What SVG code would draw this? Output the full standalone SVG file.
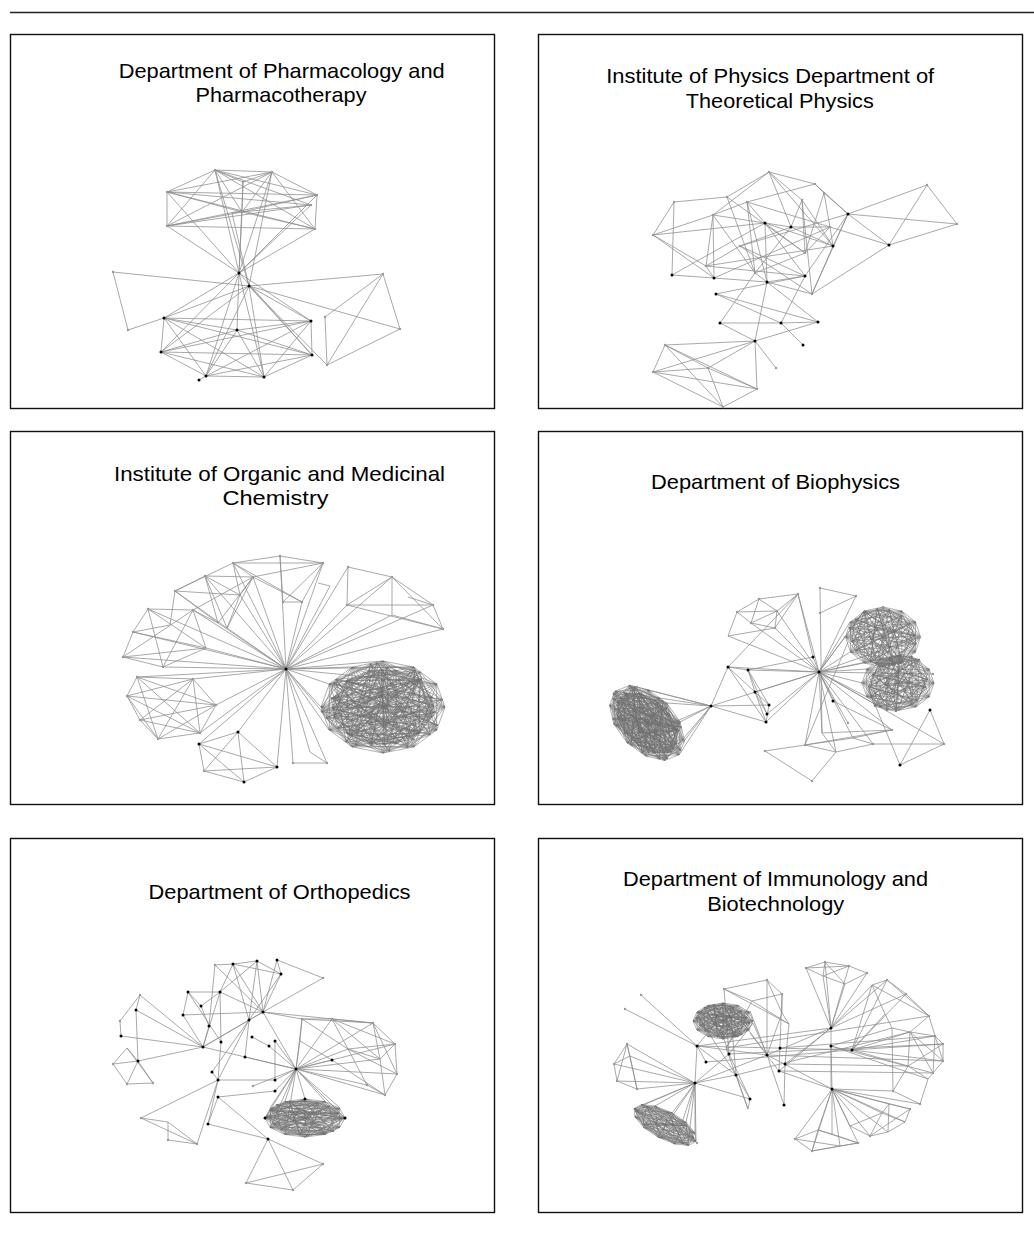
<svg xmlns="http://www.w3.org/2000/svg" width="1034" height="1236" viewBox="0 0 1034 1236">
<style>
.frame{fill:#fff;stroke:#111;stroke-width:1.4}
.title{font-family:"Liberation Sans",Arial,sans-serif;font-size:21px;fill:#000;text-anchor:middle}
.e{fill:none;stroke:#8c8c8c;stroke-width:0.75}
.k polygon,.k path{fill:none;stroke:#707070;stroke-width:0.55;vector-effect:non-scaling-stroke}
.dk{fill:none;stroke:#000;stroke-width:3;stroke-linecap:round}
.lt{fill:none;stroke:#9a9a9a;stroke-width:2.4;stroke-linecap:round}
</style>
<defs>
<g id="k12" class="k">
<polygon points="50,0 43.3,-25 25,-43.3 0,-50 -25,-43.3 -43.3,-25 -50,0 -43.3,25 -25,43.3 0,50 25,43.3 43.3,25"/>
<polygon points="50,0 25,-43.3 -25,-43.3 -50,0 -25,43.3 25,43.3"/>
<polygon points="43.3,-25 0,-50 -43.3,-25 -43.3,25 0,50 43.3,25"/>
<polygon points="50,0 0,-50 -50,0 0,50"/>
<polygon points="43.3,-25 -25,-43.3 -43.3,25 25,43.3"/>
<polygon points="25,-43.3 -43.3,-25 -25,43.3 43.3,25"/>
<polygon points="50,0 -25,-43.3 -25,43.3"/>
<polygon points="43.3,-25 -43.3,-25 0,50"/>
<polygon points="25,-43.3 -50,0 25,43.3"/>
<polygon points="0,-50 -43.3,25 43.3,25"/>
<polygon points="50,0 -43.3,-25 25,43.3 0,-50 -25,43.3 43.3,-25 -50,0 43.3,25 -25,-43.3 0,50 25,-43.3 -43.3,25"/>
<path d="M50,0L-50,0M43.3,-25L-43.3,25M25,-43.3L-25,43.3M0,-50L0,50M-25,-43.3L25,43.3M-43.3,-25L43.3,25"/>
</g>
<g id="r10" class="k">
<polygon points="48,-8 30,-38 -5,-48 -38,-30 -50,5 -30,38 5,48 38,30 12,-15 -15,10"/>
<polygon points="48,-8 -5,-48 -50,5 5,48 12,-15"/>
<polygon points="30,-38 -38,-30 -30,38 38,30 -15,10"/>
<polygon points="48,-8 -38,-30 5,48 -15,10 -5,-48 -30,38 12,-15 30,-38 -50,5 38,30"/>
<polygon points="48,-8 -50,5 12,-15 -5,-48 5,48"/>
<polygon points="30,-38 -30,38 -15,10 -38,-30 38,30"/>
<path d="M48,-8L-30,38M30,-38L5,48M-5,-48L38,30M-38,-30L12,-15M-50,5L-15,10"/>
</g>
<g id="r10b" class="k">
<polygon points="44,20 20,44 -22,42 -46,12 -40,-26 -10,-47 26,-40 -2,-12 18,5 -20,-2"/>
<polygon points="44,20 -22,42 -40,-26 26,-40 18,5"/>
<polygon points="20,44 -46,12 -10,-47 -2,-12 -20,-2"/>
<polygon points="44,20 -46,12 26,-40 -20,-2 -22,42 -10,-47 18,5 20,44 -40,-26 -2,-12"/>
<polygon points="44,20 -40,-26 18,5 -22,42 26,-40"/>
<polygon points="20,44 -10,-47 -20,-2 -46,12 -2,-12"/>
<path d="M44,20L-10,-47M20,44L26,-40M-22,42L-2,-12M-46,12L18,5M-40,-26L-20,-2"/>
</g>
<g id="dense">
<use href="#k12"/>
<use href="#r10"/>
<use href="#r10b"/>
<use href="#k12" transform="rotate(15) scale(0.82)"/>
<use href="#r10" transform="rotate(140) scale(0.85)"/>
<use href="#r10b" transform="rotate(250) scale(0.9)"/>
</g>
<g id="mid">
<use href="#r10"/>
<use href="#r10b" transform="rotate(30)"/>
</g>
</defs>
<rect width="1034" height="1236" fill="#fff"/>
<line x1="10" y1="12.5" x2="1034" y2="12.5" stroke="#222" stroke-width="1.6"/>

<!-- Panel 1 -->
<g id="panel-pharmacology">
<rect class="frame" x="10.5" y="34.5" width="484" height="374"/>
<text class="title" x="281.7" y="77.5" textLength="326" lengthAdjust="spacingAndGlyphs">Department of Pharmacology and</text>
<text class="title" x="281" y="101.5" textLength="171" lengthAdjust="spacingAndGlyphs">Pharmacotherapy</text>
<g id="p1-edges">
<path class="e" d="M215 170L272 172M215 170L167 192M272 172L317 195M167 192L317 195M167 226L315 229M167 192L167 226M317 195L315 229M215 170L242 212M272 172L242 212M167 192L315 229M167 226L317 195M215 170L315 229M272 172L167 226M167 192L311 205M167 226L311 205M215 170L243 182M243 182L272 172M243 182L242 212M167 192L242 212M242 212L317 195M167 226L242 212M242 212L315 229M215 170L317 195M272 172L167 192M215 170L311 205M232 213L311 205M272 172L315 229M215 170L167 226
M239 273L215 170M239 273L272 172M239 273L243 182M239 273L167 192M239 273L317 195M239 273L167 226M239 273L315 229M239 273L242 212M239 273L311 205M249 286L215 170M249 286L272 172M249 286L232 213
M113 272L249 286M113 272L128 330M128 330L164 318M249 286L383 274M249 286L400 329M383 274L400 329M383 274L325 317M325 317L327 365M327 365L400 329M383 274L327 365M249 286L327 365
M164 318L311 321M164 318L161 352M311 321L312 355M161 352L312 355M164 318L237 330M237 330L311 321M161 352L264 377M164 318L264 377M164 318L312 355M161 352L311 321M206 376L264 377M161 352L206 376M206 376L311 321M264 377L312 355M206 376L312 355M237 330L206 376M237 330L264 377M237 330L161 352M237 330L312 355M164 318L206 376M311 321L264 377M199 380L206 376
M239 273L164 318M239 273L311 321M239 273L237 330M239 273L161 352M239 273L312 355M239 273L206 376M239 273L264 377M249 286L164 318M249 286L206 376M249 286L264 377M249 286L312 355M249 286L311 321M249 286L161 352"/>
</g>
<g id="p1-nodes">
<path class="lt" d="M215 170h0M272 172h0M243 182h0M167 192h0M317 195h0M311 205h0M242 212h0M167 226h0M315 229h0M113 272h0M128 330h0M383 274h0M400 329h0M325 317h0M327 365h0"/>
<path class="dk" d="M239 273h0M249 286h0M164 318h0M311 321h0M237 330h0M161 352h0M312 355h0M206 376h0M264 377h0M199 380h0"/>
</g>
</g>

<!-- Panel 2 -->
<g id="panel-physics">
<rect class="frame" x="538.5" y="34.5" width="484" height="374"/>
<text class="title" x="770.2" y="83" textLength="328" lengthAdjust="spacingAndGlyphs">Institute of Physics Department of</text>
<text class="title" x="779.8" y="108" textLength="188" lengthAdjust="spacingAndGlyphs">Theoretical Physics</text>
<g id="p2-edges">
<path class="e" d="M769 172L815 184M769 172L727 197M674 202L727 197M674 202L672 275M769 172L802 200M769 172L713 215M769 172L791 227M769 172L833 246M815 184L824 193M815 184L747 202M815 184L848 214M824 193L830 227M824 193L848 214M824 193L805 253M653 235L713 215M653 235L765 223M653 235L706 266M653 235L714 278M713 215L747 202M713 215L791 227M713 215L706 266M713 215L714 278M713 215L755 273M747 202L765 223M747 202L755 273M747 202L767 282M747 202L830 227M802 200L791 227M802 200L833 246M802 200L805 253M802 200L812 294M848 214L889 245M848 214L957 224M848 214L833 246M848 214L805 276M927 185L848 214M927 185L957 224M927 185L889 245M957 224L889 245M889 245L830 227M889 245L812 294M791 227L830 227M791 227L833 246M791 227L740 246M791 227L755 273M830 227L833 246M830 227L805 253M765 223L805 253M765 223L805 276M765 223L767 282M740 246L706 266M740 246L812 294M740 246L805 276M805 253L755 273M706 266L805 276M706 266L714 278M672 275L714 278M672 275L765 223M714 278L767 282M755 273L767 282M767 282L805 276M767 282L812 294M716 294L805 276M716 294L818 322M716 294L781 323M767 282L755 341M767 282L818 322M755 273L720 323M805 276L781 323M720 323L781 323M720 323L755 341M781 323L818 322M781 323L803 345M818 322L755 341M812 294L833 246M812 294L848 214M727 197L755 273M706 266L833 246M714 278L830 227M740 246L848 214M653 235L674 202M727 197L805 253M765 223L833 246
M755 341L665 345M755 341L653 372M755 341L708 368M755 341L757 389M755 341L776 368M665 345L653 372M665 345L757 389M665 345L723 407M665 345L708 368M653 372L708 368M653 372L757 389M653 372L723 407M708 368L757 389M708 368L723 407M757 389L723 407"/>
</g>
<g id="p2-nodes">
<path class="lt" d="M769 172h0M815 184h0M824 193h0M674 202h0M727 197h0M747 202h0M802 200h0M927 185h0M713 215h0M830 227h0M957 224h0M653 235h0M740 246h0M805 253h0M706 266h0M755 273h0M812 294h0M776 368h0M665 345h0M653 372h0M708 368h0M757 389h0M723 407h0"/>
<path class="dk" d="M848 214h0M765 223h0M791 227h0M833 246h0M889 245h0M672 275h0M714 278h0M767 282h0M805 276h0M716 294h0M720 323h0M781 323h0M818 322h0M755 341h0M803 345h0"/>
</g>
</g>

<!-- Panel 3 -->
<g id="panel-chemistry">
<rect class="frame" x="10.5" y="431.5" width="484" height="373"/>
<text class="title" x="279.5" y="481" textLength="331" lengthAdjust="spacingAndGlyphs">Institute of Organic  and Medicinal</text>
<text class="title" x="275.5" y="505" textLength="106" lengthAdjust="spacingAndGlyphs">Chemistry</text>
<g id="p3-edges">
<path class="e" d="M233 563L280 556M280 556L323 563M233 563L323 563M280 556L283 602M233 563L302 602M323 563L283 602M323 563L302 602M253 577L323 563M283 602L302 602M253 577L240 595M233 563L253 577M318 583L330 586M233 563L240 595M302 602L253 577
M205 576L253 577M205 576L175 591M175 591L170 625M205 576L218 623M205 576L240 595M205 576L227 628M253 577L193 610M175 591L227 628M175 591L240 595M240 595L227 628M253 577L227 628M233 563L175 591M193 610L218 623M175 591L218 623M253 577L218 623
M148 609L193 610M148 609L133 632M133 632L123 657M123 657L163 667M163 667L206 648M206 648L193 610M148 609L163 667M193 610L123 657M148 609L206 648M133 632L206 648M193 610L163 667M133 632L170 625M123 657L206 648
M137 677L193 679M137 677L127 696M127 696L140 720M140 720L158 739M158 739L200 733M200 733L216 705M216 705L193 679M137 677L216 705M137 677L200 733M137 677L158 739M193 679L127 696M193 679L140 720M193 679L200 733M193 679L158 739M127 696L216 705M127 696L200 733M216 705L140 720M216 705L158 739M140 720L200 733M127 696L158 739
M238 732L199 744M199 744L204 771M204 771L244 782M244 782L277 767M277 767L238 732M238 732L204 771M199 744L277 767M238 732L244 782M199 744L244 782M204 771L277 767M293 763L327 763M310 752L327 763
M348 567L392 577M392 577L443 629M347 605L433 605M392 577L392 615M347 605L443 629M392 577L347 605M392 577L433 605M408 597L433 605M433 605L443 629M348 567L347 605M392 615L443 629
M286 669L280 556M286 669L233 563M286 669L323 563M286 669L302 602M286 669L330 586M286 669L253 577M286 669L240 595M286 669L348 567M286 669L347 605M286 669L392 615M286 669L443 629M286 669L433 605M286 669L392 577M286 669L205 576M286 669L218 623M286 669L227 628M286 669L193 610M286 669L148 609M286 669L133 632M286 669L123 657M286 669L163 667M286 669L206 648M286 669L137 677M286 669L193 679M286 669L216 705M286 669L200 733M286 669L238 732M286 669L199 744M286 669L277 767M286 669L293 763M286 669L327 763M286 669L310 752M286 669L383 661M286 669L352 667M286 669L329 684M286 669L321 707M286 669L329 730M286 669L352 747M286 669L414 667M286 669L437 684"/>
<use href="#dense" transform="translate(383,707) scale(1.24,0.92)"/>
</g>
<g id="p3-nodes">
<path class="lt" d="M280 556h0M233 563h0M323 563h0M348 567h0M205 576h0M253 577h0M392 577h0M175 591h0M240 595h0M302 602h0M283 602h0M347 605h0M433 605h0M443 629h0M148 609h0M193 610h0M133 632h0M123 657h0M163 667h0M137 677h0M193 679h0M127 696h0M216 705h0M140 720h0M200 733h0M158 739h0M204 771h0M293 763h0M327 763h0"/>
<path class="dk" d="M286 669h0M238 732h0M199 744h0M277 767h0M244 782h0"/>
</g>
</g>

<!-- Panel 4 -->
<g id="panel-biophysics">
<rect class="frame" x="538.5" y="431.5" width="484" height="373"/>
<text class="title" x="775.5" y="489" textLength="249" lengthAdjust="spacingAndGlyphs">Department of Biophysics</text>
<g id="p4-edges">
<path class="e" d="M759 599L798 594M798 594L777 611M798 594L775 628M759 599L777 611M759 599L751 623M737 612L777 611M737 612L728 636M737 612L751 623M751 623L775 628M728 636L775 628M777 611L775 628M777 611L751 623M759 599L737 612M798 594L813 657
M819 672L777 611M819 672L751 623M819 672L775 628M819 672L728 636M819 672L798 594M820 588L856 596M856 596L820 613M820 588L822 733M856 596L819 672M813 657L819 672
M819 672L845 637M819 672L850 622M819 672L850 652M819 672L864 611M819 672L864 663M819 672L862 683M819 672L867 669M819 672L867 697M819 672L880 659M819 672L880 707M819 672L933 674M819 672L920 637
M711 706L629 685M711 706L648 690M711 706L667 703M711 706L680 722M711 706L684 741M711 706L679 755M711 706L665 760M711 706L615 691M711 706L627 743M711 706L728 667M711 706L769 705M711 706L766 722M711 706L819 672
M728 667L748 670M728 667L755 692M728 667L766 722M748 670L755 692M748 670L769 705M748 670L767 714M755 692L769 705M755 692L766 722M755 692L767 714M769 705L766 722M728 667L819 672M748 670L819 672M755 692L819 672M767 714L819 672M766 722L819 672M748 670L813 657M728 667L798 594
M930 710L944 744M944 744L900 765M900 765L930 710M868 688L900 765M873 744L944 744M765 751L805 745M765 751L812 781M812 781L836 752M805 745L892 730M822 733L892 730M853 738L892 730M805 745L853 738M836 752L873 744M822 733L836 752M805 745L836 752M853 738L873 744
M819 672L833 701M819 672L848 723M819 672L805 745M819 672L836 752M819 672L853 738M819 672L873 744M819 672L892 730M819 672L822 733M819 672L944 744M833 701L892 730M805 745L848 642"/>
<use href="#k12" transform="translate(883,637) scale(0.75,0.6)"/>
<use href="#mid" transform="translate(883,637) rotate(20) scale(0.7,0.58)"/>
<use href="#k12" transform="translate(898,683) scale(0.72,0.55)"/>
<use href="#mid" transform="translate(898,683) rotate(-40) scale(0.66,0.54)"/>
<use href="#dense" transform="translate(647,723) rotate(45) scale(0.9,0.56)"/>
</g>
<g id="p4-nodes">
<path class="lt" d="M798 594h0M759 599h0M777 611h0M737 612h0M751 623h0M775 628h0M820 588h0M856 596h0M820 613h0M883 607h0M845 637h0M920 637h0M862 683h0M933 674h0M898 710h0M805 745h0M765 751h0M812 781h0M848 723h0M892 730h0M873 744h0M944 744h0M637 687h0M684 741h0"/>
<path class="dk" d="M819 672h0M813 657h0M728 667h0M748 670h0M755 692h0M769 705h0M767 714h0M766 722h0M833 701h0M930 710h0M900 765h0M711 706h0"/>
</g>
</g>

<!-- Panel 5 -->
<g id="panel-orthopedics">
<rect class="frame" x="10.5" y="838.5" width="484" height="374"/>
<text class="title" x="279.5" y="899" textLength="262" lengthAdjust="spacingAndGlyphs">Department of Orthopedics</text>
<g id="p5-edges">
<path class="e" d="M233 964L257 961M233 964L263 1012M257 961L263 1012M277 960L323 978M277 960L281 974M323 978L249 1020M281 974L263 1012M281 974L249 1020M233 964L249 1020M215 965L263 1012M215 965L233 964M233 964L281 974M257 961L281 974M257 961L249 1020M277 960L263 1012M220 992L257 961M220 992L233 964M220 992L263 1012M188 992L220 992M188 992L201 1006M188 992L183 1015M220 992L201 1006M188 992L221 1042M220 992L221 1042M201 1006L209 1026M183 1015L203 1047M183 1015L263 1012M209 1026L203 1047M220 992L203 1047M215 965L209 1026
M140 995L136 1010M136 1010L138 1061M140 995L120 1021M120 1021L121 1036M136 1010L203 1047M121 1036L203 1047M138 1061L203 1047M127 1048L113 1064M113 1064L127 1084M127 1084L153 1083M153 1083L127 1048M138 1061L153 1083M138 1061L113 1064M138 1061L127 1084M127 1048L138 1061M140 995L203 1047
M203 1047L249 1020M203 1047L263 1012M203 1047L296 1069M249 1020L212 1072M249 1020L218 1080M249 1020L245 1057M263 1012L296 1069M263 1012L373 1023M275 1041L275 1080M252 1037L269 1046M245 1057L296 1069M212 1072L218 1080M221 1042L218 1080M218 1080L275 1080M218 1080L141 1118M218 1080L197 1144M218 1080L208 1124M208 1124L268 1139M218 1097L275 1091M218 1097L208 1124M218 1097L268 1139M141 1118L168 1122M168 1122L168 1140M168 1140L197 1144M141 1118L197 1144M168 1122L197 1144M268 1139L323 1164M268 1139L246 1183M268 1139L293 1190M323 1164L246 1183M246 1183L293 1190M323 1164L293 1190
M296 1069L332 1060M296 1069L332 1019M296 1069L302 1019M296 1069L373 1023M296 1069L348 1049M296 1069L380 1059M296 1069L395 1044M296 1069L397 1074M296 1069L385 1095M296 1069L367 1085M296 1069L300 1041M296 1069L275 1080M296 1069L275 1091M296 1069L253 1086M296 1069L275 1041M296 1069L269 1046
M302 1019L332 1019M332 1019L373 1023M373 1023L395 1044M395 1044L397 1074M397 1074L385 1095M385 1095L367 1085M302 1019L300 1041M300 1041L332 1060M332 1019L348 1049M348 1049L380 1059M380 1059L395 1044M373 1023L380 1059M332 1019L380 1059M302 1019L348 1049M348 1049L397 1074M332 1060L385 1095M373 1023L397 1074M380 1059L385 1095M348 1049L367 1085M302 1019L373 1023M263 1012L302 1019M332 1019L395 1044M348 1049L395 1044
M296 1069L265 1118M296 1069L270 1108M296 1069L285 1101M296 1069L305 1099M296 1069L325 1101M296 1069L340 1108M296 1069L270 1128M296 1069L285 1135M296 1069L345 1118"/>
<use href="#k12" transform="translate(305,1118) scale(0.8,0.38)"/>
<use href="#mid" transform="translate(305,1118) rotate(5) scale(0.78,0.36)"/>
</g>
<g id="p5-nodes">
<path class="lt" d="M215 965h0M323 978h0M140 995h0M120 1021h0M113 1064h0M127 1084h0M153 1083h0M332 1019h0M373 1023h0M395 1044h0M397 1074h0M385 1095h0M367 1085h0M302 1019h0M141 1118h0M168 1140h0M197 1144h0M246 1183h0M293 1190h0M323 1164h0M253 1086h0"/>
<path class="dk" d="M233 964h0M257 961h0M277 960h0M281 974h0M188 992h0M220 992h0M201 1006h0M183 1015h0M263 1012h0M249 1020h0M136 1010h0M121 1036h0M209 1026h0M221 1042h0M203 1047h0M252 1037h0M275 1041h0M269 1046h0M245 1057h0M138 1061h0M212 1072h0M218 1080h0M296 1069h0M332 1060h0M275 1080h0M275 1091h0M218 1097h0M208 1124h0M268 1139h0M265 1118h0M345 1118h0M305 1099h0"/>
</g>
</g>

<!-- Panel 6 -->
<g id="panel-immunology">
<rect class="frame" x="538.5" y="838.5" width="484" height="374"/>
<text class="title" x="775.5" y="886" textLength="305" lengthAdjust="spacingAndGlyphs">Department of Immunology and</text>
<text class="title" x="775.7" y="911" textLength="137" lengthAdjust="spacingAndGlyphs">Biotechnology</text>
<g id="p6-edges">
<path class="e" d="M641 995L697 1046M625 1009L697 1046M697 1046L852 1050M697 1046L695 1083M697 1046L736 1075M697 1046L706 1062M697 1046L767 1055
M697 1046L730 1005M729 1054L713 1006M726 1048L750 1011M736 1075L730 1005M729 1054L753 1023M736 1075L697 1015
M724 989L767 980M767 980L782 994M782 994L782 1013M724 989L752 1001M752 1001L782 994M767 980L782 1013M752 1001L789 1024M782 1013L789 1024M724 989L789 1024M767 980L767 1055M782 994L779 1071M782 1013L767 1055M752 1001L726 1048M724 989L729 1054M789 1024L785 1064M785 1064L784 1105
M806 968L825 962M825 962L849 966M849 966L867 973M806 968L823 976M823 976L845 984M825 962L845 984M849 966L823 976M806 968L849 966M867 973L845 984M825 962L823 976M806 968L831 1028M849 966L831 1028M867 973L831 1028M823 976L831 1028M845 984L831 1028M825 962L831 1028
M831 1028L872 985M831 1028L887 980M831 1028L767 1055M831 1028L779 1071M831 1028L831 1089M831 1028L697 1046M831 1028L785 1064M831 1028L906 994
M887 980L906 994M872 985L887 980M906 994L929 1016M872 985L885 1014M885 1014L892 1028M892 1028L910 1032M910 1032L935 1036M935 1036L943 1044M943 1044L943 1061M943 1061L933 1073M933 1073L928 1079M928 1079L920 1104M920 1104L893 1091M893 1091L908 1066M908 1066L910 1032M935 1036L943 1061M910 1032L933 1073M943 1044L908 1066M929 1016L935 1036M892 1028L893 1091M908 1066L928 1079M935 1036L933 1073M910 1032L943 1061M929 1016L910 1032M887 980L929 1016M872 985L929 1016
M852 1050L935 1036M852 1050L943 1044M852 1050L943 1061M852 1050L910 1032M852 1050L908 1066M852 1050L885 1014M831 1046L933 1073M831 1046L892 1028M831 1046L928 1079M780 1048L935 1036M767 1055L943 1061M785 1064L908 1066M779 1071L933 1073M736 1075L910 1032M729 1054L943 1044M706 1062L852 1050M726 1048L929 1016M852 1050L887 980M852 1050L872 985M852 1050L906 994
M832 1089L889 1104M832 1089L910 1109M832 1089L905 1122M832 1089L870 1136M832 1089L888 1132M832 1089L882 1113M832 1089L850 1126M832 1089L795 1139M832 1089L812 1151M832 1089L818 1130M832 1089L840 1146M832 1089L858 1143M832 1089L832 1134M832 1089L831 1046M832 1089L767 1055M832 1089L779 1071M832 1089L920 1104M832 1089L893 1091
M889 1104L910 1109M910 1109L905 1122M905 1122L888 1132M888 1132L870 1136M870 1136L850 1126M850 1126L882 1113M882 1113L889 1104M889 1104L888 1132M882 1113L905 1122M882 1113L870 1136M910 1109L870 1136
M795 1139L812 1151M812 1151L840 1146M840 1146L858 1143M858 1143L818 1130M818 1130L795 1139M795 1139L840 1146M812 1151L818 1130M818 1130L832 1134M832 1134L858 1143M812 1151L858 1143
M627 1044L630 1056M627 1044L614 1064M614 1064L617 1081M617 1081L637 1089M630 1056L637 1089M614 1064L630 1056M627 1044L637 1089M630 1056L695 1083M627 1044L695 1083M614 1064L695 1083M617 1081L695 1083M637 1089L695 1083M627 1044L617 1081
M695 1083L634 1109M695 1083L642 1105M695 1083L655 1106M695 1083L672 1113M695 1083L686 1122M695 1083L695 1133M695 1083L696 1141M695 1083L688 1145M695 1083L675 1144M695 1083L658 1137
M695 1083L750 1099M695 1083L736 1075M695 1083L767 1055M695 1083L729 1054M750 1099L736 1075M750 1099L748 1109M748 1109L736 1075M748 1109L726 1048M750 1099L729 1054M784 1105L767 1055M767 1055L730 1005M767 1055L750 1011M767 1055L753 1023M779 1071L750 1033"/>
<use href="#k12" transform="translate(723,1021) scale(0.6,0.36)"/>
<use href="#mid" transform="translate(723,1021) rotate(10) scale(0.55,0.34)"/>
<use href="#k12" transform="translate(665,1125) rotate(28) scale(0.7,0.28)"/>
<use href="#r10" transform="translate(665,1125) rotate(28) scale(0.66,0.26)"/>
</g>
<g id="p6-nodes">
<path class="lt" d="M641 995h0M625 1009h0M724 989h0M767 980h0M782 994h0M806 968h0M825 962h0M849 966h0M867 973h0M887 980h0M906 994h0M929 1016h0M935 1036h0M943 1044h0M943 1061h0M933 1073h0M920 1104h0M893 1091h0M910 1109h0M870 1136h0M795 1139h0M812 1151h0M858 1143h0M627 1044h0M614 1064h0M617 1081h0M637 1089h0M697 1143h0"/>
<path class="dk" d="M697 1046h0M729 1054h0M767 1055h0M780 1048h0M831 1046h0M852 1050h0M706 1062h0M736 1075h0M779 1071h0M785 1064h0M831 1028h0M832 1089h0M695 1083h0M750 1099h0M784 1105h0"/>
</g>
</g>
</svg>
